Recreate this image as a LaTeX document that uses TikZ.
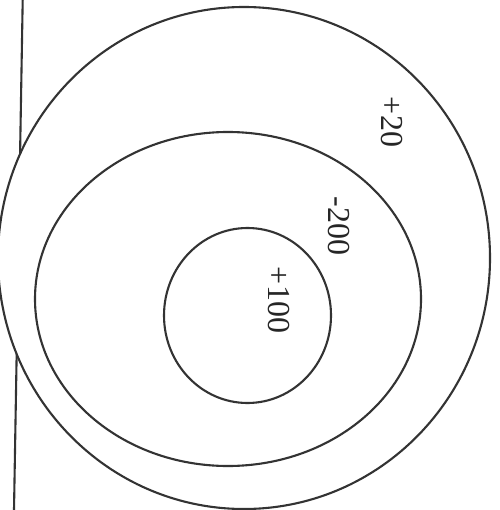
\documentclass[tikz,border=0pt]{standalone}
\usepackage{fontspec}
\setmainfont{Liberation Serif}
\begin{document}
\begin{tikzpicture}[x=1pt,y=-1pt,
  ring/.style={draw=black!80,line width=2.1pt},
  val/.style={rotate=-90,inner sep=0pt,font=\fontsize{32}{38}\selectfont,text=black!85}]
\useasboundingbox (0,0) rectangle (499,510);
\fill[white] (0,0) rectangle (499,510);
% rings
\draw[ring] (244,258) ellipse [x radius=246pt, y radius=251pt];
\draw[ring] (228,299) ellipse [x radius=193pt, y radius=167pt];
\draw[ring] (247.5,315.5) ellipse [x radius=83.5pt, y radius=87.5pt];
% margin line, hidden inside the outer ring
\coordinate (lt) at (22.7,0);
\coordinate (i1) at (20.07,154.2);
\coordinate (i2) at (16.66,353.9);
\coordinate (lb) at (14,510);
\draw[ring] (lt) -- (i1);
\draw[ring] (i2) -- (lb);
% values
\node[val] (v20) at (392,122) {+20};
\node[val] (v200) at (339,226) {-200};
\node[val] (v100) at (279,300) {+100};
\end{tikzpicture}
\end{document}
